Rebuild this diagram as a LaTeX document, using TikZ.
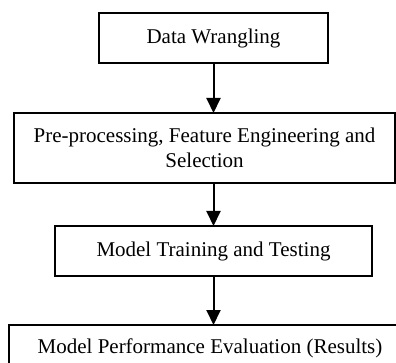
\documentclass[tikz,border=0pt]{standalone}
\usepackage{fontspec}
\setmainfont{Liberation Serif}
\usetikzlibrary{arrows.meta}
\tikzset{
  flowbox/.style={draw=black, line width=1.6pt, inner sep=0pt, outer sep=0pt,
    align=center, font=\fontsize{21}{25}\selectfont},
  flowarrow/.style={line width=2pt, -{Triangle[length=15pt,width=14pt]}}
}
\begin{document}
\begin{tikzpicture}[x=1pt,y=-1pt]
\useasboundingbox (0,0) rectangle (396,363);
\clip (0,0) rectangle (396,363);
\node[flowbox, minimum width=229pt, minimum height=50pt] (b1) at (213.5,38) {Data Wrangling};
\node[flowbox, minimum width=381pt, minimum height=70pt] (b2) at (204.5,148) {Pre-processing, Feature Engineering and\\Selection};
\node[flowbox, minimum width=317pt, minimum height=50pt] (b3) at (213.5,251) {Model Training and Testing};
\node[flowbox, minimum width=402pt, minimum height=46pt] (b4) at (210,348) {Model Performance Evaluation (Results)};
\draw[flowarrow] (b1.south) -- (b1.south |- b2.north);
\draw[flowarrow] (b2.south -| b1.south) -- (b1.south |- b3.north);
\draw[flowarrow] (b3.south) -- (b3.south |- b4.north);
\end{tikzpicture}
\end{document}
